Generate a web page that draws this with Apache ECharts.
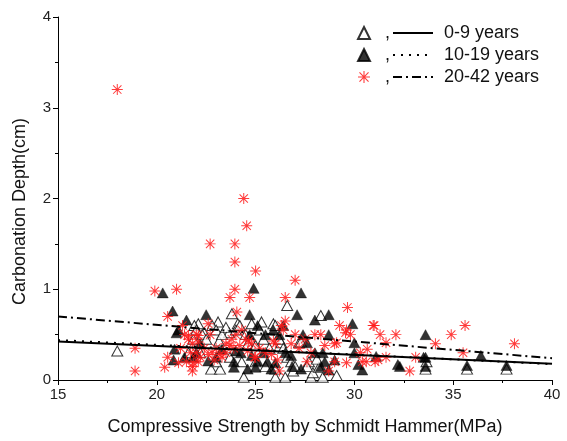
<!DOCTYPE html>
<html><head><meta charset="utf-8">
<script src="https://cdn.jsdelivr.net/npm/echarts@6/dist/echarts.min.js"></script>
<style>html,body{margin:0;padding:0;background:#fff}#c{width:567px;height:441px}</style>
</head><body><div id="c"></div>
<script>
// ---- data ----
const xTicks = [15, 20, 25, 30, 35, 40];
const yTicks = [0, 1, 2, 3, 4];
const seriesNames = ['0-9 years', '10-19 years', '20-42 years'];

const pts0to9 = [
  [18.0,0.32],[23.8,0.73],[26.6,0.82],[28.3,0.71],[23.1,0.64],[22.1,0.62],[25.3,0.64],[24.1,0.62],[24.8,0.62],[25.9,0.62],
  [22.75,0.12],[23.2,0.12],[24.4,0.03],[26.0,0.03],[26.5,0.03],[27.8,0.03],[28.4,0.03],[29.1,0.05],[26.9,0.1],[27.9,0.08],
  [28.2,0.14],[33.6,0.12],[35.7,0.12],[37.7,0.12],[33.65,0.2],[27.2,0.41],[26.3,0.41],[24.8,0.43],[23.15,0.43],[21.85,0.45],
  [22.4,0.52],[23.65,0.52],[27.7,0.2],[28.1,0.23],
  [21.9,0.6],[22.0,0.55],[22.3,0.5],[22.5,0.45],[22.8,0.6],[23.0,0.55],[23.3,0.5],[23.5,0.58],[24.0,0.55],[24.2,0.6],
  [24.5,0.5],[24.6,0.4],[25.0,0.38],[25.2,0.55],[25.4,0.45],[25.7,0.35],[26.0,0.6],[26.2,0.45],[26.4,0.35],[26.6,0.25],
  [26.8,0.2],[27.0,0.15],[27.3,0.42],[27.6,0.15],[21.6,0.3],[22.2,0.3],[23.0,0.2],[23.7,0.25],[24.3,0.2],[25.0,0.2],
  [25.5,0.15],[26.0,0.12]
];

const pts10to19 = [
  [20.3,0.96],[20.8,0.76],[21.5,0.66],[22.5,0.72],[21.0,0.52],[21.1,0.55],[20.85,0.22],[20.9,0.34],[21.4,0.25],[24.7,0.72],
  [24.9,1.01],[27.3,0.96],[27.1,0.72],[28.7,0.72],[28.0,0.66],[29.9,0.62],[33.6,0.5],[33.6,0.25],[33.6,0.15],[35.7,0.16],
  [36.4,0.27],[37.7,0.16],[32.2,0.17],[30.4,0.11],[30.2,0.17],[31.1,0.26],[30.0,0.3],[30.0,0.41],[29.0,0.22],[28.7,0.11],
  [28.5,0.2],[28.3,0.15],[27.6,0.41],[27.4,0.5],[28.7,0.5],[28.4,0.3],[28.0,0.3],[27.3,0.12],[26.85,0.15],[26.5,0.3],
  [26.4,0.6],[26.2,0.5],[25.9,0.55],[25.5,0.5],[25.1,0.6],[24.7,0.5],[23.9,0.14],[23.9,0.2],[24.6,0.12],[25.0,0.14],
  [25.1,0.21],[25.6,0.2],[25.8,0.12],[25.4,0.3],[26.0,0.19],[24.25,0.3],[24.0,0.32],[23.3,0.34],[23.0,0.25],[22.6,0.21],
  [22.0,0.3],[21.85,0.25],[22.2,0.4],[24.8,0.27],[26.8,0.27],[32.3,0.15],[33.5,0.25]
];

const pts20to42 = [
  [18.0,3.2],[18.9,0.35],[18.9,0.1],[19.9,0.98],[21.0,1.0],[20.55,0.7],[20.4,0.14],[20.55,0.25],[22.7,1.5],[23.95,1.5],
  [23.95,1.3],[23.95,1.0],[23.7,0.91],[24.05,0.75],[24.4,2.0],[24.55,1.7],[25.0,1.2],[24.7,0.91],[26.5,0.91],[27.0,1.1],
  [29.65,0.8],[29.25,0.6],[31.0,0.6],[30.95,0.6],[31.3,0.5],[32.1,0.5],[31.6,0.41],[34.1,0.4],[34.9,0.5],[35.6,0.6],
  [35.5,0.3],[38.1,0.4],[32.8,0.1],[33.1,0.25],[31.05,0.2],[31.6,0.25],[29.6,0.19],[30.3,0.3],[30.65,0.34],[29.55,0.52],
  [29.8,0.5],[29.1,0.41],[28.7,0.1],[29.0,0.2],[29.0,0.4],[29.6,0.55],[30.4,0.2],[30.6,0.2],[31.2,0.22],
  [21.3,0.6],[21.4,0.5],[21.6,0.45],[21.8,0.4],[21.7,0.3],[21.8,0.15],[21.8,0.1],[21.5,0.2],[21.2,0.35],[22.0,0.5],
  [22.1,0.42],[22.0,0.3],[22.2,0.25],[22.1,0.2],[22.4,0.35],[22.6,0.28],[22.6,0.62],[22.8,0.3],[22.9,0.22],[23.0,0.35],
  [23.2,0.28],[23.3,0.25],[23.5,0.4],[23.8,0.45],[23.9,0.35],[24.0,0.5],[24.2,0.38],[24.3,0.55],[24.5,0.45],[24.6,0.32],
  [24.8,0.4],[25.0,0.25],[25.2,0.35],[25.5,0.3],[25.8,0.28],[26.0,0.4],[26.1,0.22],[26.2,0.1],[26.3,0.6],[26.5,0.65],
  [26.4,0.55],[26.8,0.4],[27.0,0.5],[27.2,0.35],[27.5,0.45],[27.8,0.3],[28.0,0.5],[28.3,0.5],[28.5,0.38],[27.6,0.2],
  [24.95,0.25],[25.9,0.43],[23.7,0.38],[24.65,0.43],[22.7,0.5],[22.1,0.49],[21.6,0.49],[21.85,0.19],[21.1,0.19],[23.5,0.3]
];

// regression line end points [x, y]
const fit0to9 = [[15,0.425],[40,0.18]];
const fit10to19 = [[15,0.44],[40,0.175]];
const fit20to42 = [[15,0.70],[40,0.24]];

// ---- chart ----
const FONT = '"Liberation Sans", Arial, sans-serif';
const asterisk = 'path://M0,4.55H10V5.45H0Z M4.55,0H5.45V10H4.55Z M0.9,1.55L1.55,0.9L9.1,8.45L8.45,9.1Z M8.45,0.9L9.1,1.55L1.55,9.1L0.9,8.45Z';

const chart = echarts.init(document.getElementById('c'), null, {renderer: 'canvas'});
const ptLabel = s => s + ' pts';

const axisCommon = {
  nameLocation: 'middle',
  axisLine: {show: true, onZero: false, lineStyle: {color: '#000', width: 1}},
  axisTick: {show: true, inside: false, length: 5, lineStyle: {color: '#000'}},
  minorTick: {show: true, splitNumber: 2, length: 3, lineStyle: {color: '#000'}},
  axisLabel: {fontSize: 15, color: '#222', margin: 7, fontFamily: FONT},
  splitLine: {show: false}
};

chart.setOption({
  animation: false,
  backgroundColor: '#fff',
  textStyle: {fontFamily: FONT},
  grid: {left: 58, right: 15, top: 17, bottom: 60},
  xAxis: Object.assign({}, axisCommon, {
    type: 'value', min: xTicks[0], max: xTicks[xTicks.length-1], interval: 5,
    name: 'Compressive Strength by Schmidt Hammer(MPa)', nameGap: 38,
    nameTextStyle: {fontSize: 18, color: '#111', fontFamily: FONT}
  }),
  yAxis: Object.assign({}, axisCommon, {
    type: 'value', min: yTicks[0], max: yTicks[yTicks.length-1], interval: 1,
    name: 'Carbonation Depth(cm)', nameGap: 29,
    nameTextStyle: {fontSize: 18, color: '#111', fontFamily: FONT, padding: [0, 26, 0, 0]}
  }),
  legend: [
    {
      data: seriesNames.map(ptLabel), orient: 'vertical', left: 357, top: 24, padding: 0,
      itemWidth: 12, itemHeight: 12, itemGap: 4,
      formatter: () => ',',
      textStyle: {fontSize: 18, color: '#111', padding: [0, 0, 0, 10], fontFamily: FONT},
      selectedMode: false
    },
    {
      data: seriesNames, orient: 'vertical', left: 392, top: 24, padding: 0,
      itemWidth: 40, itemHeight: 12, itemGap: 4,
      itemStyle: {opacity: 0, color: 'rgba(0,0,0,0)', borderWidth: 0},
      textStyle: {fontSize: 18, color: '#111', padding: [0, 0, 0, 6], fontFamily: FONT},
      selectedMode: false
    }
  ],
  series: [
    {
      name: ptLabel(seriesNames[0]), type: 'scatter', data: pts0to9,
      symbol: 'triangle', symbolSize: [11, 10],
      itemStyle: {color: '#fff', borderColor: '#000', borderWidth: 1}, z: 2
    },
    {
      name: ptLabel(seriesNames[1]), type: 'scatter', data: pts10to19,
      symbol: 'triangle', symbolSize: [11, 10],
      itemStyle: {color: '#000', borderColor: '#000', borderWidth: 0.5}, z: 3
    },
    {
      name: ptLabel(seriesNames[2]), type: 'scatter', data: pts20to42,
      symbol: asterisk, symbolSize: 11,
      itemStyle: {color: '#ff1a1a', opacity: 0.85}, z: 4
    },
    {
      name: seriesNames[0], type: 'line', data: fit0to9, symbol: 'none',
      itemStyle: {color: '#000'},
      lineStyle: {color: '#000', width: 2, type: 'solid'}, z: 5
    },
    {
      name: seriesNames[1], type: 'line', data: fit10to19, symbol: 'none',
      itemStyle: {color: '#000'},
      lineStyle: {color: '#000', width: 2, type: [2, 6]}, z: 5
    },
    {
      name: seriesNames[2], type: 'line', data: fit20to42, symbol: 'none',
      itemStyle: {color: '#000'},
      lineStyle: {color: '#000', width: 2, type: [9, 4, 2, 4]}, z: 5
    }
  ]
});
</script>
</body></html>
